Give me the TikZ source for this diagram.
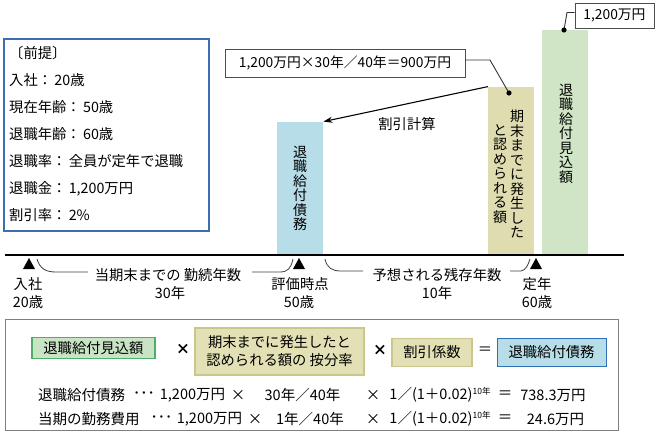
\documentclass[tikz,border=0pt]{standalone}
\usepackage{fontspec}
\setmainfont{Noto Sans CJK JP}
\usetikzlibrary{arrows.meta}
\definecolor{barblue}{HTML}{B7DDE8}
\definecolor{barolive}{HTML}{DFDDB0}
\definecolor{bargreen}{HTML}{CFE5C6}
\definecolor{boxblue}{HTML}{3C6EB4}
\definecolor{greenedge}{HTML}{4FAE6B}
\definecolor{greenfill}{HTML}{C8E4C4}
\definecolor{oliveedge}{HTML}{CBC68E}
\definecolor{olivefill}{HTML}{E2E0B4}
\definecolor{blueedge}{HTML}{2F6FB5}
\definecolor{greyedge}{HTML}{7F7F7F}
\newcommand{\supten}{\raisebox{5.5pt}{\fontsize{8.5}{8.5}\selectfont 10年}}
\begin{document}
\begin{tikzpicture}[x=1pt,y=-1pt,
  every node/.style={inner sep=0pt,font=\fontsize{14.3}{16}\selectfont},
  bar/.style={minimum width=46pt,anchor=south west,draw=none},
  vert/.style={align=center,font=\fontsize{14}{14.5}\selectfont},
  callout/.style={draw=black!70,line width=0.9pt,fill=white,font=\fontsize{13.8}{15}\selectfont},
  brace/.style={draw=black!75,line width=0.8pt},
  fbox/.style={minimum height=28pt,line width=1.3pt},
  frm/.style={font=\fontsize{14.5}{16}\selectfont},
  tmark/.style={fill=black}]
\fill[white] (0,0) rectangle (657,436);
\useasboundingbox (0,0) rectangle (657,436);

% premise box
\node[draw=boxblue,line width=1.6pt,minimum width=205pt,minimum height=192pt,anchor=north west] (premise) at (3,38) {};
\node[anchor=west,align=left,font=\fontsize{14.3}{27.1}\selectfont] (premtext) at (9,134)
 {〔前提〕\\入社：\,20歳\\現在年齢：\,50歳\\退職年齢：\,60歳\\退職率：\,全員が定年で退職\\退職金：\,1,200万円\\割引率：\,2\%};

% bars
\node[bar,fill=barblue,minimum height=133pt] (bluebar) at (277,255) {};
\node[bar,fill=barolive,minimum height=168pt] (olivebar) at (488,255) {};
\node[bar,fill=bargreen,minimum height=225pt] (greenbar) at (542,255) {};
\node[vert] (bluetext) at (300,188.5) {退\\職\\給\\付\\債\\務};
\node[vert] (olivetextA) at (517,174) {期\\末\\ま\\で\\に\\発\\生\\し\\た};
\node[vert] (olivetextB) at (500,174) {と\\認\\め\\ら\\れ\\る\\額};
\node[vert] (greentext) at (566,133.5) {退\\職\\給\\付\\見\\込\\額};

% timeline
\coordinate (tlL) at (5,255);
\coordinate (tlR) at (624,255);
\draw[line width=1.2pt] (tlL) -- (tlR);
\fill[tmark] (29,258) -- (35,269) -- (23,269) -- cycle;
\fill[tmark] (299,258) -- (305,269) -- (293,269) -- cycle;
\fill[tmark] (536,258) -- (542,269) -- (530,269) -- cycle;
\node (l1a) at (28,284) {入社};
\node (l1b) at (28,302) {20歳};
\node (l2a) at (300,284) {評価時点};
\node (l2b) at (299,302) {50歳};
\node (l3a) at (537,284) {定年};
\node (l3b) at (537,302) {60歳};

% braces
\path[brace] (37,259) .. controls (40,269) and (46,272) .. (56,272) -- (88,272);
\path[brace] (252,272) -- (280,272) .. controls (288,272) and (291,268) .. (293,259);
\node (br1t) at (168,275) {当期末までの 勤続年数};
\node (br1n) at (170,293) {30年};
\path[brace] (325,259) .. controls (327,268) and (332,271) .. (341,271) -- (363,271);
\path[brace] (510,271) -- (521,271) .. controls (526,270) and (528,265) .. (530,259);
\node (br2t) at (437,275) {予想される残存年数};
\node (br2n) at (437,293) {10年};

% callouts
\coordinate (dotA) at (509,93);
\coordinate (dotB) at (564,30);
\node[callout,minimum width=240pt,minimum height=28pt] (c2) at (345,63) {1,200万円×30年／40年＝900万円};
\node[callout,minimum width=79pt,minimum height=25pt] (c1) at (614.5,15.5) {1,200万円};
\draw[line width=0.9pt,black!80] ([yshift=3pt]c2.east) -- (490,60) -- (dotA);
\draw[line width=0.9pt,black!80] ([yshift=3pt]c1.west) -- (567,12.5) -- (dotB);
\fill (dotA) circle (2.6);
\fill (dotB) circle (2.6);

% discount arrow
\draw[line width=1.1pt,-{Stealth[length=9pt,width=6pt]}] (olivebar.north west) -- (bluebar.north east);
\node (disc) at (407,124) {割引計算};

% formula box
\node[draw=greyedge,line width=1pt,minimum width=613pt,minimum height=111pt,anchor=north west] (formula) at (5,319) {};
\node[fbox,draw=greenedge,fill=greenfill,minimum width=123pt,minimum height=21pt] (fg) at (93.5,348) {退職給付見込額};
\node (x1) at (183,349) {\textbf{×}};
\node[fbox,draw=oliveedge,fill=olivefill,minimum width=169pt,minimum height=47pt,align=center,font=\fontsize{14.3}{18}\selectfont] (fo) at (279.5,351.5) {期末までに発生したと\\認められる額の 按分率};
\node (x2) at (380,350) {\textbf{×}};
\node[fbox,draw=oliveedge,fill=olivefill,minimum width=80pt] (fd) at (432,352.5) {割引係数};
\node (eq) at (485,351) {＝};
\node[fbox,draw=blueedge,fill=barblue,minimum width=109pt,line width=1pt] (fb) at (551.5,352) {退職給付債務};

% formula lines
\node[frm,anchor=west] (r1a) at (38,395) {退職給付債務};
\node[frm] (r1b) at (144,395) {･･･};
\node[frm] (r1c) at (192.5,395) {1,200万円};
\node[frm] (r1d) at (238,395) {×};
\node[frm] (r1e) at (302.5,395) {30年／40年};
\node[frm] (r1f) at (373,395) {×};
\node[frm] (r1g) at (440,395) {1／(1＋0.02)\supten};
\node[frm] (r1h) at (505,395) {＝};
\node[frm] (r1i) at (553,395) {738.3万円};

\node[frm,anchor=west] (r2a) at (38,419) {当期の勤務費用};
\node[frm] (r2b) at (161.5,419) {･･･};
\node[frm] (r2c) at (209.5,419) {1,200万円};
\node[frm] (r2d) at (255,419) {×};
\node[frm] (r2e) at (310,419) {1年／40年};
\node[frm] (r2f) at (373,419) {×};
\node[frm] (r2g) at (440,419) {1／(1＋0.02)\supten};
\node[frm] (r2h) at (505,419) {＝};
\node[frm] (r2i) at (555.5,419) {24.6万円};
\end{tikzpicture}
\end{document}
